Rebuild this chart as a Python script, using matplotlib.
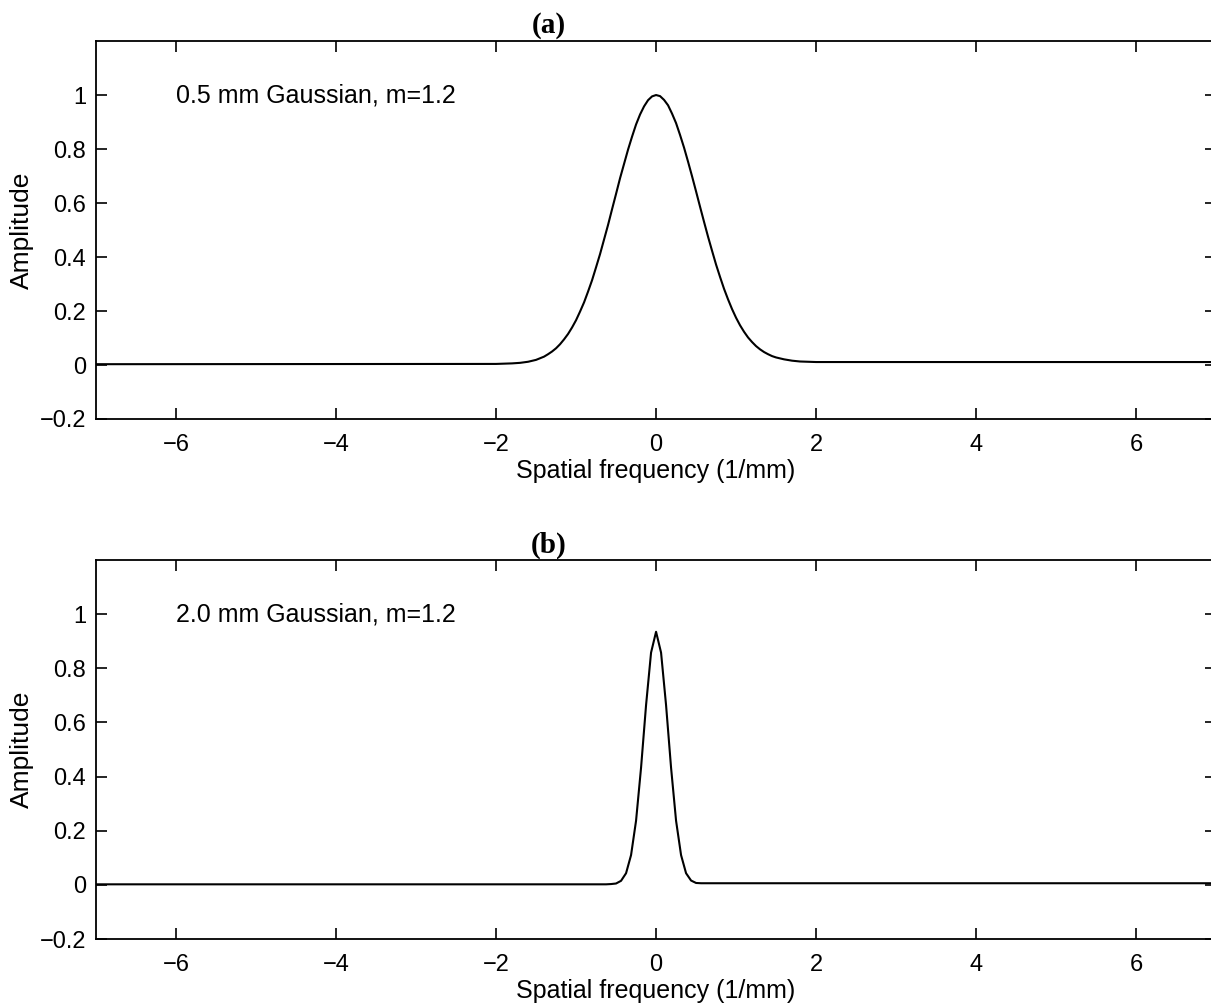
import numpy as np
import matplotlib.pyplot as plt

plt.rcParams['font.family'] = ['Liberation Sans', 'DejaVu Sans']

# (a) 0.5 mm Gaussian
freq_a = [-7.0, -2.0, -1.9, -1.8, -1.7, -1.6, -1.5, -1.45, -1.4, -1.35, -1.3, -1.25, -1.2, -1.15,
          -1.1, -1.05, -1.0, -0.95, -0.9, -0.85, -0.8, -0.75, -0.7, -0.65, -0.6, -0.55, -0.5,
          -0.45, -0.4, -0.35, -0.3, -0.25, -0.2, -0.15, -0.1, -0.05, 0.0,
          0.05, 0.1, 0.15, 0.2, 0.25, 0.3, 0.35, 0.4, 0.45, 0.5, 0.55, 0.6, 0.65, 0.7,
          0.75, 0.8, 0.85, 0.9, 0.95, 1.0, 1.05, 1.1, 1.15, 1.2, 1.25, 1.3, 1.35, 1.4,
          1.45, 1.5, 1.6, 1.7, 1.8, 1.9, 2.0, 7.0]
amp_a = [0.003, 0.004, 0.005, 0.006, 0.008, 0.012, 0.019, 0.025, 0.031, 0.040, 0.050, 0.062, 0.077, 0.095,
         0.115, 0.139, 0.166, 0.198, 0.232, 0.272, 0.314, 0.362, 0.411, 0.465, 0.519, 0.577, 0.634,
         0.692, 0.745, 0.798, 0.846, 0.891, 0.928, 0.958, 0.981, 0.995, 1.0,
         0.996, 0.982, 0.962, 0.931, 0.896, 0.852, 0.805, 0.753, 0.699, 0.643, 0.586, 0.530, 0.475, 0.423,
         0.372, 0.326, 0.282, 0.243, 0.207, 0.175, 0.147, 0.123, 0.102, 0.085, 0.070, 0.058, 0.048, 0.040,
         0.033, 0.028, 0.021, 0.016, 0.013, 0.012, 0.011, 0.011]

# (b) 2.0 mm Gaussian
freq_b = [-7.0, -0.625, -0.5625, -0.5, -0.4375, -0.375, -0.3125, -0.25, -0.1875, -0.125, -0.0625, 0.0,
          0.0625, 0.125, 0.1875, 0.25, 0.3125, 0.375, 0.4375, 0.5, 0.5625, 0.625, 7.0]
amp_b = [0.002, 0.002, 0.003, 0.005, 0.015, 0.043, 0.110, 0.237, 0.433, 0.664, 0.858, 0.935,
         0.858, 0.664, 0.433, 0.237, 0.110, 0.043, 0.016, 0.007, 0.006, 0.006, 0.006]

panels = [
    (freq_a, amp_a, '0.5 mm Gaussian, m=1.2', '(a)'),
    (freq_b, amp_b, '2.0 mm Gaussian, m=1.2', '(b)'),
]

xticks = [-6, -4, -2, 0, 2, 4, 6]
yticks = [-0.2, 0, 0.2, 0.4, 0.6, 0.8, 1]
ytick_labels = ['\u22120.2', '0', '0.2', '0.4', '0.6', '0.8', '1']
xtick_labels = ['\u22126', '\u22124', '\u22122', '0', '2', '4', '6']

fig = plt.figure(figsize=(12.11, 10.06), dpi=100)
rects = [[0.0793, 0.5835, 0.9249, 0.3757], [0.0793, 0.0666, 0.9249, 0.3767]]
title_y = [0.9672, 0.4503]

for (fx, fy, note, tag), rect, ty in zip(panels, rects, title_y):
    ax = fig.add_axes(rect)
    ax.plot(fx, fy, color='black', lw=1.5)
    ax.set_xlim(-7, 7)
    ax.set_ylim(-0.2, 1.2)
    ax.set_xticks(xticks)
    ax.set_xticklabels(xtick_labels)
    ax.set_yticks(yticks)
    ax.set_yticklabels(ytick_labels)
    ax.tick_params(direction='in', length=8, width=1.2, labelsize=17,
                   top=True, right=True, pad=7)
    ax.tick_params(axis='x', pad=11)
    for s in ax.spines.values():
        s.set_linewidth(1.3)
    ax.set_xlabel('Spatial frequency (1/mm)', fontsize=18, labelpad=2)
    ax.set_ylabel('Amplitude', fontsize=19, labelpad=4)
    ax.text(-6, 1.0, note, fontsize=18, va='center', ha='left')
    fig.text(0.453, ty, tag, fontsize=21, fontweight='bold',
             family=['Liberation Serif', 'DejaVu Serif'],
             ha='center', va='baseline')

fig.savefig('out.png', dpi=100)
